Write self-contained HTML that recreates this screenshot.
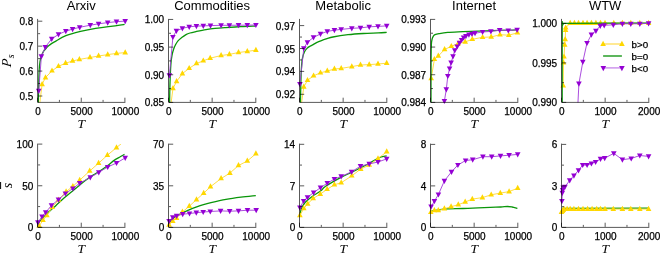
<!DOCTYPE html>
<html><head><meta charset="utf-8"><style>
html,body{margin:0;padding:0;background:#fff;overflow:hidden;}
svg{display:block;will-change:transform;}
.t{font-family:"Liberation Sans",sans-serif;fill:#000;stroke:#000;stroke-width:0.25px;}
.h{font-family:"Liberation Sans",sans-serif;fill:#000;}
.s{font-family:"Liberation Serif",serif;font-style:italic;fill:#000;}
</style></head><body>
<svg width="660" height="253" viewBox="0 0 660 253">
<defs><clipPath id="cr1p1"><rect x="37.60" y="19.40" width="90.30" height="83.00"/></clipPath><clipPath id="cr1p2"><rect x="168.50" y="19.40" width="90.30" height="83.00"/></clipPath><clipPath id="cr1p3"><rect x="299.50" y="19.40" width="90.30" height="83.00"/></clipPath><clipPath id="cr1p4"><rect x="430.50" y="19.40" width="90.30" height="83.00"/></clipPath><clipPath id="cr1p5"><rect x="561.50" y="19.40" width="90.30" height="83.00"/></clipPath><clipPath id="cr2p1"><rect x="37.60" y="144.10" width="90.30" height="83.30"/></clipPath><clipPath id="cr2p2"><rect x="168.50" y="144.10" width="90.30" height="83.30"/></clipPath><clipPath id="cr2p3"><rect x="299.50" y="144.10" width="90.30" height="83.30"/></clipPath><clipPath id="cr2p4"><rect x="430.50" y="144.10" width="90.30" height="83.30"/></clipPath><clipPath id="cr2p5"><rect x="561.50" y="144.10" width="90.30" height="83.30"/></clipPath></defs>
<path clip-path="url(#cr1p1)" fill="none" stroke-linejoin="round" d="M38.60,112.80 L42.10,84.40 L45.50,77.60 L52.00,70.80 L58.50,66.30 L65.60,63.20 L72.60,61.00 L79.40,59.40 L90.00,57.50 L98.60,56.00 L107.70,54.60 L116.50,53.40 L125.20,52.60" stroke="#FFDA30" stroke-width="0.9"/>
<path d="M39.30,86.20 L44.90,86.20 L42.10,81.00Z" fill="#FFD700"/>
<path d="M42.70,79.40 L48.30,79.40 L45.50,74.20Z" fill="#FFD700"/>
<path d="M49.20,72.60 L54.80,72.60 L52.00,67.40Z" fill="#FFD700"/>
<path d="M55.70,68.10 L61.30,68.10 L58.50,62.90Z" fill="#FFD700"/>
<path d="M62.80,65.00 L68.40,65.00 L65.60,59.80Z" fill="#FFD700"/>
<path d="M69.80,62.80 L75.40,62.80 L72.60,57.60Z" fill="#FFD700"/>
<path d="M76.60,61.20 L82.20,61.20 L79.40,56.00Z" fill="#FFD700"/>
<path d="M87.20,59.30 L92.80,59.30 L90.00,54.10Z" fill="#FFD700"/>
<path d="M95.80,57.80 L101.40,57.80 L98.60,52.60Z" fill="#FFD700"/>
<path d="M104.90,56.40 L110.50,56.40 L107.70,51.20Z" fill="#FFD700"/>
<path d="M113.70,55.20 L119.30,55.20 L116.50,50.00Z" fill="#FFD700"/>
<path d="M122.40,54.40 L128.00,54.40 L125.20,49.20Z" fill="#FFD700"/>
<path clip-path="url(#cr1p1)" fill="none" stroke-linejoin="round" d="M38.30,104.00 C38.35,101.67 38.45,95.67 38.60,90.00 C38.75,84.33 38.97,74.73 39.20,70.00 C39.43,65.27 39.68,63.78 40.00,61.60 C40.32,59.42 40.58,58.48 41.10,56.90 C41.62,55.32 42.37,53.42 43.10,52.10 C43.83,50.78 44.58,50.05 45.50,49.00 C46.42,47.95 47.55,46.73 48.60,45.80 C49.65,44.87 50.58,44.18 51.80,43.40 C53.02,42.62 53.65,42.35 55.90,41.10 C58.15,39.85 61.20,37.52 65.30,35.90 C69.40,34.28 75.45,32.67 80.50,31.40 C85.55,30.13 90.55,29.13 95.60,28.30 C100.65,27.47 105.97,27.05 110.80,26.40 C115.63,25.75 122.30,24.73 124.60,24.40" stroke="#0A960A" stroke-width="1.3"/>
<path clip-path="url(#cr1p1)" fill="none" stroke-linejoin="round" d="M38.70,90.90 L41.40,56.40 L45.30,47.10 L51.70,38.90 L58.50,34.40 L65.80,31.10 L72.60,29.10 L79.70,27.30 L90.30,25.20 L98.60,23.80 L107.70,22.60 L116.50,21.70 L125.20,21.10" stroke="#A23ADA" stroke-width="0.9"/>
<path d="M35.90,88.80 L41.50,88.80 L38.70,94.00Z" fill="#9400D3"/>
<path d="M38.60,54.30 L44.20,54.30 L41.40,59.50Z" fill="#9400D3"/>
<path d="M42.50,45.00 L48.10,45.00 L45.30,50.20Z" fill="#9400D3"/>
<path d="M48.90,36.80 L54.50,36.80 L51.70,42.00Z" fill="#9400D3"/>
<path d="M55.70,32.30 L61.30,32.30 L58.50,37.50Z" fill="#9400D3"/>
<path d="M63.00,29.00 L68.60,29.00 L65.80,34.20Z" fill="#9400D3"/>
<path d="M69.80,27.00 L75.40,27.00 L72.60,32.20Z" fill="#9400D3"/>
<path d="M76.90,25.20 L82.50,25.20 L79.70,30.40Z" fill="#9400D3"/>
<path d="M87.50,23.10 L93.10,23.10 L90.30,28.30Z" fill="#9400D3"/>
<path d="M95.80,21.70 L101.40,21.70 L98.60,26.90Z" fill="#9400D3"/>
<path d="M104.90,20.50 L110.50,20.50 L107.70,25.70Z" fill="#9400D3"/>
<path d="M113.70,19.60 L119.30,19.60 L116.50,24.80Z" fill="#9400D3"/>
<path d="M122.40,19.00 L128.00,19.00 L125.20,24.20Z" fill="#9400D3"/>
<path clip-path="url(#cr1p2)" fill="none" stroke-linejoin="round" d="M169.30,115.80 L173.00,88.40 L176.60,81.50 L182.40,73.60 L189.20,68.30 L196.50,63.50 L203.30,60.80 L210.20,58.20 L221.10,55.50 L229.40,54.40 L238.50,52.50 L247.30,51.40 L255.90,50.20" stroke="#FFDA30" stroke-width="0.9"/>
<path d="M170.20,90.20 L175.80,90.20 L173.00,85.00Z" fill="#FFD700"/>
<path d="M173.80,83.30 L179.40,83.30 L176.60,78.10Z" fill="#FFD700"/>
<path d="M179.60,75.40 L185.20,75.40 L182.40,70.20Z" fill="#FFD700"/>
<path d="M186.40,70.10 L192.00,70.10 L189.20,64.90Z" fill="#FFD700"/>
<path d="M193.70,65.30 L199.30,65.30 L196.50,60.10Z" fill="#FFD700"/>
<path d="M200.50,62.60 L206.10,62.60 L203.30,57.40Z" fill="#FFD700"/>
<path d="M207.40,60.00 L213.00,60.00 L210.20,54.80Z" fill="#FFD700"/>
<path d="M218.30,57.30 L223.90,57.30 L221.10,52.10Z" fill="#FFD700"/>
<path d="M226.60,56.20 L232.20,56.20 L229.40,51.00Z" fill="#FFD700"/>
<path d="M235.70,54.30 L241.30,54.30 L238.50,49.10Z" fill="#FFD700"/>
<path d="M244.50,53.20 L250.10,53.20 L247.30,48.00Z" fill="#FFD700"/>
<path d="M253.10,52.00 L258.70,52.00 L255.90,46.80Z" fill="#FFD700"/>
<path clip-path="url(#cr1p2)" fill="none" stroke-linejoin="round" d="M169.60,104.00 C169.63,101.67 169.68,94.83 169.80,90.00 C169.92,85.17 170.10,79.50 170.30,75.00 C170.50,70.50 170.72,66.25 171.00,63.00 C171.28,59.75 171.58,57.75 172.00,55.50 C172.42,53.25 172.92,51.28 173.50,49.50 C174.08,47.72 174.75,46.25 175.50,44.80 C176.25,43.35 176.97,42.00 178.00,40.80 C179.03,39.60 180.37,38.63 181.70,37.60 C183.03,36.57 184.62,35.37 186.00,34.60 C187.38,33.83 188.33,33.50 190.00,33.00 C191.67,32.50 193.33,32.17 196.00,31.60 C198.67,31.03 202.83,30.13 206.00,29.60 C209.17,29.07 211.73,28.73 215.00,28.40 C218.27,28.07 221.30,27.88 225.60,27.60 C229.90,27.32 235.80,26.95 240.80,26.70 C245.80,26.45 253.13,26.20 255.60,26.10" stroke="#0A960A" stroke-width="1.3"/>
<path clip-path="url(#cr1p2)" fill="none" stroke-linejoin="round" d="M169.40,75.30 L172.90,37.00 L176.40,30.90 L182.40,28.30 L189.20,26.80 L196.40,26.10 L203.30,25.90 L210.50,25.60 L221.10,25.30 L229.40,25.30 L238.50,25.20 L247.30,25.20 L255.90,25.00" stroke="#A23ADA" stroke-width="0.9"/>
<path d="M166.60,73.20 L172.20,73.20 L169.40,78.40Z" fill="#9400D3"/>
<path d="M170.10,34.90 L175.70,34.90 L172.90,40.10Z" fill="#9400D3"/>
<path d="M173.60,28.80 L179.20,28.80 L176.40,34.00Z" fill="#9400D3"/>
<path d="M179.60,26.20 L185.20,26.20 L182.40,31.40Z" fill="#9400D3"/>
<path d="M186.40,24.70 L192.00,24.70 L189.20,29.90Z" fill="#9400D3"/>
<path d="M193.60,24.00 L199.20,24.00 L196.40,29.20Z" fill="#9400D3"/>
<path d="M200.50,23.80 L206.10,23.80 L203.30,29.00Z" fill="#9400D3"/>
<path d="M207.70,23.50 L213.30,23.50 L210.50,28.70Z" fill="#9400D3"/>
<path d="M218.30,23.20 L223.90,23.20 L221.10,28.40Z" fill="#9400D3"/>
<path d="M226.60,23.20 L232.20,23.20 L229.40,28.40Z" fill="#9400D3"/>
<path d="M235.70,23.10 L241.30,23.10 L238.50,28.30Z" fill="#9400D3"/>
<path d="M244.50,23.10 L250.10,23.10 L247.30,28.30Z" fill="#9400D3"/>
<path d="M253.10,22.90 L258.70,22.90 L255.90,28.10Z" fill="#9400D3"/>
<path clip-path="url(#cr1p3)" fill="none" stroke-linejoin="round" d="M300.20,112.80 L303.80,86.90 L307.50,80.30 L313.60,75.80 L320.50,72.80 L327.30,71.00 L334.40,69.00 L341.20,68.40 L351.80,66.60 L360.50,65.00 L369.20,64.60 L378.00,64.00 L386.70,63.20" stroke="#FFDA30" stroke-width="0.9"/>
<path d="M301.00,88.70 L306.60,88.70 L303.80,83.50Z" fill="#FFD700"/>
<path d="M304.70,82.10 L310.30,82.10 L307.50,76.90Z" fill="#FFD700"/>
<path d="M310.80,77.60 L316.40,77.60 L313.60,72.40Z" fill="#FFD700"/>
<path d="M317.70,74.60 L323.30,74.60 L320.50,69.40Z" fill="#FFD700"/>
<path d="M324.50,72.80 L330.10,72.80 L327.30,67.60Z" fill="#FFD700"/>
<path d="M331.60,70.80 L337.20,70.80 L334.40,65.60Z" fill="#FFD700"/>
<path d="M338.40,70.20 L344.00,70.20 L341.20,65.00Z" fill="#FFD700"/>
<path d="M349.00,68.40 L354.60,68.40 L351.80,63.20Z" fill="#FFD700"/>
<path d="M357.70,66.80 L363.30,66.80 L360.50,61.60Z" fill="#FFD700"/>
<path d="M366.40,66.40 L372.00,66.40 L369.20,61.20Z" fill="#FFD700"/>
<path d="M375.20,65.80 L380.80,65.80 L378.00,60.60Z" fill="#FFD700"/>
<path d="M383.90,65.00 L389.50,65.00 L386.70,59.80Z" fill="#FFD700"/>
<path clip-path="url(#cr1p3)" fill="none" stroke-linejoin="round" d="M300.40,104.00 C300.45,101.67 300.58,94.83 300.70,90.00 C300.82,85.17 300.93,79.33 301.10,75.00 C301.27,70.67 301.47,66.83 301.70,64.00 C301.93,61.17 302.07,59.97 302.50,58.00 C302.93,56.03 303.55,53.80 304.30,52.20 C305.05,50.60 306.05,49.40 307.00,48.40 C307.95,47.40 308.97,46.83 310.00,46.20 C311.03,45.57 312.03,45.23 313.20,44.60 C314.37,43.97 315.73,43.03 317.00,42.40 C318.27,41.77 319.13,41.42 320.80,40.80 C322.47,40.18 324.98,39.33 327.00,38.70 C329.02,38.07 329.40,37.67 332.90,37.00 C336.40,36.33 342.95,35.28 348.00,34.70 C353.05,34.12 358.15,33.80 363.20,33.50 C368.25,33.20 374.38,33.08 378.30,32.90 C382.22,32.72 385.30,32.48 386.70,32.40" stroke="#0A960A" stroke-width="1.3"/>
<path clip-path="url(#cr1p3)" fill="none" stroke-linejoin="round" d="M299.90,84.20 L303.80,48.30 L307.40,42.30 L313.50,37.40 L320.50,33.90 L327.30,31.40 L334.40,30.20 L341.20,29.40 L351.80,28.30 L360.50,27.90 L369.20,26.80 L378.00,26.40 L386.70,25.90" stroke="#A23ADA" stroke-width="0.9"/>
<path d="M297.10,82.10 L302.70,82.10 L299.90,87.30Z" fill="#9400D3"/>
<path d="M301.00,46.20 L306.60,46.20 L303.80,51.40Z" fill="#9400D3"/>
<path d="M304.60,40.20 L310.20,40.20 L307.40,45.40Z" fill="#9400D3"/>
<path d="M310.70,35.30 L316.30,35.30 L313.50,40.50Z" fill="#9400D3"/>
<path d="M317.70,31.80 L323.30,31.80 L320.50,37.00Z" fill="#9400D3"/>
<path d="M324.50,29.30 L330.10,29.30 L327.30,34.50Z" fill="#9400D3"/>
<path d="M331.60,28.10 L337.20,28.10 L334.40,33.30Z" fill="#9400D3"/>
<path d="M338.40,27.30 L344.00,27.30 L341.20,32.50Z" fill="#9400D3"/>
<path d="M349.00,26.20 L354.60,26.20 L351.80,31.40Z" fill="#9400D3"/>
<path d="M357.70,25.80 L363.30,25.80 L360.50,31.00Z" fill="#9400D3"/>
<path d="M366.40,24.70 L372.00,24.70 L369.20,29.90Z" fill="#9400D3"/>
<path d="M375.20,24.30 L380.80,24.30 L378.00,29.50Z" fill="#9400D3"/>
<path d="M383.90,23.80 L389.50,23.80 L386.70,29.00Z" fill="#9400D3"/>
<path clip-path="url(#cr1p4)" fill="none" stroke-linejoin="round" d="M431.20,78.40 L434.40,59.30 L438.30,56.00 L444.60,49.50 L451.30,46.30 L458.10,43.60 L465.20,41.90 L472.30,39.30 L482.60,37.30 L491.20,37.00 L500.00,34.70 L508.80,35.20 L517.40,32.80" stroke="#FFDA30" stroke-width="0.9"/>
<path d="M428.40,80.20 L434.00,80.20 L431.20,75.00Z" fill="#FFD700"/>
<path d="M431.60,61.10 L437.20,61.10 L434.40,55.90Z" fill="#FFD700"/>
<path d="M435.50,57.80 L441.10,57.80 L438.30,52.60Z" fill="#FFD700"/>
<path d="M441.80,51.30 L447.40,51.30 L444.60,46.10Z" fill="#FFD700"/>
<path d="M448.50,48.10 L454.10,48.10 L451.30,42.90Z" fill="#FFD700"/>
<path d="M455.30,45.40 L460.90,45.40 L458.10,40.20Z" fill="#FFD700"/>
<path d="M462.40,43.70 L468.00,43.70 L465.20,38.50Z" fill="#FFD700"/>
<path d="M469.50,41.10 L475.10,41.10 L472.30,35.90Z" fill="#FFD700"/>
<path d="M479.80,39.10 L485.40,39.10 L482.60,33.90Z" fill="#FFD700"/>
<path d="M488.40,38.80 L494.00,38.80 L491.20,33.60Z" fill="#FFD700"/>
<path d="M497.20,36.50 L502.80,36.50 L500.00,31.30Z" fill="#FFD700"/>
<path d="M506.00,37.00 L511.60,37.00 L508.80,31.80Z" fill="#FFD700"/>
<path d="M514.60,34.60 L520.20,34.60 L517.40,29.40Z" fill="#FFD700"/>
<path clip-path="url(#cr1p4)" fill="none" stroke-linejoin="round" d="M431.00,104.00 C431.00,100.00 430.98,88.17 431.00,80.00 C431.02,71.83 431.03,61.00 431.10,55.00 C431.17,49.00 431.25,46.58 431.40,44.00 C431.55,41.42 431.70,40.78 432.00,39.50 C432.30,38.22 432.70,37.10 433.20,36.30 C433.70,35.50 434.03,35.15 435.00,34.70 C435.97,34.25 436.88,33.98 439.00,33.60 C441.12,33.22 443.72,32.72 447.70,32.40 C451.68,32.08 457.85,31.92 462.90,31.70 C467.95,31.48 472.95,31.28 478.00,31.10 C483.05,30.92 488.15,30.75 493.20,30.60 C498.25,30.45 504.27,30.33 508.30,30.20 C512.33,30.07 515.88,29.87 517.40,29.80" stroke="#0A960A" stroke-width="1.3"/>
<path clip-path="url(#cr1p4)" fill="none" stroke-linejoin="round" d="M444.40,101.00 L446.30,89.30 L447.80,76.00 L449.60,68.50 L451.10,62.70 L453.00,56.40 L454.80,50.30 L457.20,46.50 L459.50,42.80 L461.60,40.00 L463.60,37.70 L465.90,36.20 L468.90,34.70 L472.00,33.90 L475.00,33.20 L482.60,32.00 L490.90,31.40 L499.70,30.20 L508.30,30.50 L517.10,29.80" stroke="#A23ADA" stroke-width="0.9"/>
<path d="M441.60,98.90 L447.20,98.90 L444.40,104.10Z" fill="#9400D3"/>
<path d="M443.50,87.20 L449.10,87.20 L446.30,92.40Z" fill="#9400D3"/>
<path d="M445.00,73.90 L450.60,73.90 L447.80,79.10Z" fill="#9400D3"/>
<path d="M446.80,66.40 L452.40,66.40 L449.60,71.60Z" fill="#9400D3"/>
<path d="M448.30,60.60 L453.90,60.60 L451.10,65.80Z" fill="#9400D3"/>
<path d="M450.20,54.30 L455.80,54.30 L453.00,59.50Z" fill="#9400D3"/>
<path d="M452.00,48.20 L457.60,48.20 L454.80,53.40Z" fill="#9400D3"/>
<path d="M454.40,44.40 L460.00,44.40 L457.20,49.60Z" fill="#9400D3"/>
<path d="M456.70,40.70 L462.30,40.70 L459.50,45.90Z" fill="#9400D3"/>
<path d="M458.80,37.90 L464.40,37.90 L461.60,43.10Z" fill="#9400D3"/>
<path d="M460.80,35.60 L466.40,35.60 L463.60,40.80Z" fill="#9400D3"/>
<path d="M463.10,34.10 L468.70,34.10 L465.90,39.30Z" fill="#9400D3"/>
<path d="M466.10,32.60 L471.70,32.60 L468.90,37.80Z" fill="#9400D3"/>
<path d="M469.20,31.80 L474.80,31.80 L472.00,37.00Z" fill="#9400D3"/>
<path d="M472.20,31.10 L477.80,31.10 L475.00,36.30Z" fill="#9400D3"/>
<path d="M479.80,29.90 L485.40,29.90 L482.60,35.10Z" fill="#9400D3"/>
<path d="M488.10,29.30 L493.70,29.30 L490.90,34.50Z" fill="#9400D3"/>
<path d="M496.90,28.10 L502.50,28.10 L499.70,33.30Z" fill="#9400D3"/>
<path d="M505.50,28.40 L511.10,28.40 L508.30,33.60Z" fill="#9400D3"/>
<path d="M514.30,27.70 L519.90,27.70 L517.10,32.90Z" fill="#9400D3"/>
<path clip-path="url(#cr1p5)" fill="none" stroke-linejoin="round" d="M563.20,85.80 L563.50,62.80 L564.00,56.80 L564.70,44.90 L565.20,39.40 L565.60,30.10 L565.70,27.80 L570.20,23.10 L574.40,23.10 L578.50,23.10 L583.00,23.10 L587.10,23.10 L591.40,23.10 L595.90,23.10 L600.50,23.10 L605.00,23.10 L613.80,23.10 L622.40,23.10 L630.80,23.10 L639.80,23.10 L648.60,23.10" stroke="#FFDA30" stroke-width="0.9"/>
<path d="M560.40,87.60 L566.00,87.60 L563.20,82.40Z" fill="#FFD700"/>
<path d="M560.70,64.60 L566.30,64.60 L563.50,59.40Z" fill="#FFD700"/>
<path d="M561.20,58.60 L566.80,58.60 L564.00,53.40Z" fill="#FFD700"/>
<path d="M561.90,46.70 L567.50,46.70 L564.70,41.50Z" fill="#FFD700"/>
<path d="M562.40,41.20 L568.00,41.20 L565.20,36.00Z" fill="#FFD700"/>
<path d="M562.80,31.90 L568.40,31.90 L565.60,26.70Z" fill="#FFD700"/>
<path d="M562.90,29.60 L568.50,29.60 L565.70,24.40Z" fill="#FFD700"/>
<path d="M567.40,24.90 L573.00,24.90 L570.20,19.70Z" fill="#FFD700"/>
<path d="M571.60,24.90 L577.20,24.90 L574.40,19.70Z" fill="#FFD700"/>
<path d="M575.70,24.90 L581.30,24.90 L578.50,19.70Z" fill="#FFD700"/>
<path d="M580.20,24.90 L585.80,24.90 L583.00,19.70Z" fill="#FFD700"/>
<path d="M584.30,24.90 L589.90,24.90 L587.10,19.70Z" fill="#FFD700"/>
<path d="M588.60,24.90 L594.20,24.90 L591.40,19.70Z" fill="#FFD700"/>
<path d="M593.10,24.90 L598.70,24.90 L595.90,19.70Z" fill="#FFD700"/>
<path d="M597.70,24.90 L603.30,24.90 L600.50,19.70Z" fill="#FFD700"/>
<path d="M602.20,24.90 L607.80,24.90 L605.00,19.70Z" fill="#FFD700"/>
<path d="M611.00,24.90 L616.60,24.90 L613.80,19.70Z" fill="#FFD700"/>
<path d="M619.60,24.90 L625.20,24.90 L622.40,19.70Z" fill="#FFD700"/>
<path d="M628.00,24.90 L633.60,24.90 L630.80,19.70Z" fill="#FFD700"/>
<path d="M637.00,24.90 L642.60,24.90 L639.80,19.70Z" fill="#FFD700"/>
<path d="M645.80,24.90 L651.40,24.90 L648.60,19.70Z" fill="#FFD700"/>
<path clip-path="url(#cr1p5)" fill="none" stroke-linejoin="round" d="M562.20,104.00 C562.20,91.33 562.15,41.12 562.20,28.00 C562.25,14.88 562.28,26.00 562.50,25.30 C562.72,24.60 563.03,24.13 563.50,23.80 C563.97,23.47 550.83,23.40 565.30,23.30 C579.77,23.20 636.13,23.22 650.30,23.20" stroke="#0A960A" stroke-width="1.3"/>
<path clip-path="url(#cr1p5)" fill="none" stroke-linejoin="round" d="M577.60,110.00 L578.90,83.70 L582.80,61.90 L587.00,43.00 L591.40,34.70 L595.90,30.90 L600.20,25.90 L604.20,25.30 L613.30,24.80 L622.40,23.80 L630.80,23.80 L639.80,23.80 L648.60,23.30" stroke="#A23ADA" stroke-width="0.9"/>
<path d="M576.10,81.60 L581.70,81.60 L578.90,86.80Z" fill="#9400D3"/>
<path d="M580.00,59.80 L585.60,59.80 L582.80,65.00Z" fill="#9400D3"/>
<path d="M584.20,40.90 L589.80,40.90 L587.00,46.10Z" fill="#9400D3"/>
<path d="M588.60,32.60 L594.20,32.60 L591.40,37.80Z" fill="#9400D3"/>
<path d="M593.10,28.80 L598.70,28.80 L595.90,34.00Z" fill="#9400D3"/>
<path d="M597.40,23.80 L603.00,23.80 L600.20,29.00Z" fill="#9400D3"/>
<path d="M601.40,23.20 L607.00,23.20 L604.20,28.40Z" fill="#9400D3"/>
<path d="M610.50,22.70 L616.10,22.70 L613.30,27.90Z" fill="#9400D3"/>
<path d="M619.60,21.70 L625.20,21.70 L622.40,26.90Z" fill="#9400D3"/>
<path d="M628.00,21.70 L633.60,21.70 L630.80,26.90Z" fill="#9400D3"/>
<path d="M637.00,21.70 L642.60,21.70 L639.80,26.90Z" fill="#9400D3"/>
<path d="M645.80,21.20 L651.40,21.20 L648.60,26.40Z" fill="#9400D3"/>
<path clip-path="url(#cr2p1)" fill="none" stroke-linejoin="round" d="M37.40,226.50 C37.43,226.33 37.28,226.27 37.60,225.50 C37.92,224.73 38.62,222.98 39.30,221.90 C39.98,220.82 40.80,219.98 41.70,219.00 C42.60,218.02 43.65,217.05 44.70,216.00 C45.75,214.95 46.12,214.47 48.00,212.70 C49.88,210.93 53.33,207.83 56.00,205.40 C58.67,202.97 61.33,200.43 64.00,198.10 C66.67,195.77 69.50,193.47 72.00,191.40 C74.50,189.33 76.67,187.60 79.00,185.70 C81.33,183.80 83.65,181.77 86.00,180.00 C88.35,178.23 90.73,176.63 93.10,175.10 C95.47,173.57 97.82,172.35 100.20,170.80 C102.58,169.25 105.02,167.58 107.40,165.80 C109.78,164.02 112.48,161.52 114.50,160.10 C116.52,158.68 117.83,158.25 119.50,157.30 C121.17,156.35 123.67,154.88 124.50,154.40" stroke="#0A960A" stroke-width="1.3"/>
<path clip-path="url(#cr2p1)" fill="none" stroke-linejoin="round" d="M39.20,226.00 L43.00,220.10 L46.90,215.50 L52.20,207.30 L58.50,199.90 L66.10,191.60 L72.90,186.30 L79.70,180.20 L89.70,171.00 L98.60,163.20 L107.40,155.20 L116.50,147.60 L125.40,140.30" stroke="#FFDA30" stroke-width="0.9"/>
<path d="M36.40,227.80 L42.00,227.80 L39.20,222.60Z" fill="#FFD700"/>
<path d="M40.20,221.90 L45.80,221.90 L43.00,216.70Z" fill="#FFD700"/>
<path d="M44.10,217.30 L49.70,217.30 L46.90,212.10Z" fill="#FFD700"/>
<path d="M49.40,209.10 L55.00,209.10 L52.20,203.90Z" fill="#FFD700"/>
<path d="M55.70,201.70 L61.30,201.70 L58.50,196.50Z" fill="#FFD700"/>
<path d="M63.30,193.40 L68.90,193.40 L66.10,188.20Z" fill="#FFD700"/>
<path d="M70.10,188.10 L75.70,188.10 L72.90,182.90Z" fill="#FFD700"/>
<path d="M76.90,182.00 L82.50,182.00 L79.70,176.80Z" fill="#FFD700"/>
<path d="M86.90,172.80 L92.50,172.80 L89.70,167.60Z" fill="#FFD700"/>
<path d="M95.80,165.00 L101.40,165.00 L98.60,159.80Z" fill="#FFD700"/>
<path d="M104.60,157.00 L110.20,157.00 L107.40,151.80Z" fill="#FFD700"/>
<path d="M113.70,149.40 L119.30,149.40 L116.50,144.20Z" fill="#FFD700"/>
<path clip-path="url(#cr2p1)" fill="none" stroke-linejoin="round" d="M37.90,222.40 L42.00,216.50 L45.70,212.40 L51.50,205.40 L58.50,199.60 L65.40,193.50 L72.90,188.50 L79.70,183.20 L90.30,177.40 L98.80,172.40 L107.70,167.00 L116.50,163.00 L125.20,157.90" stroke="#A23ADA" stroke-width="0.9"/>
<path d="M35.10,220.30 L40.70,220.30 L37.90,225.50Z" fill="#9400D3"/>
<path d="M39.20,214.40 L44.80,214.40 L42.00,219.60Z" fill="#9400D3"/>
<path d="M42.90,210.30 L48.50,210.30 L45.70,215.50Z" fill="#9400D3"/>
<path d="M48.70,203.30 L54.30,203.30 L51.50,208.50Z" fill="#9400D3"/>
<path d="M55.70,197.50 L61.30,197.50 L58.50,202.70Z" fill="#9400D3"/>
<path d="M62.60,191.40 L68.20,191.40 L65.40,196.60Z" fill="#9400D3"/>
<path d="M70.10,186.40 L75.70,186.40 L72.90,191.60Z" fill="#9400D3"/>
<path d="M76.90,181.10 L82.50,181.10 L79.70,186.30Z" fill="#9400D3"/>
<path d="M87.50,175.30 L93.10,175.30 L90.30,180.50Z" fill="#9400D3"/>
<path d="M96.00,170.30 L101.60,170.30 L98.80,175.50Z" fill="#9400D3"/>
<path d="M104.90,164.90 L110.50,164.90 L107.70,170.10Z" fill="#9400D3"/>
<path d="M113.70,160.90 L119.30,160.90 L116.50,166.10Z" fill="#9400D3"/>
<path d="M122.40,155.80 L128.00,155.80 L125.20,161.00Z" fill="#9400D3"/>
<path clip-path="url(#cr2p2)" fill="none" stroke-linejoin="round" d="M168.80,224.00 C168.93,223.73 168.82,223.40 169.60,222.40 C170.38,221.40 171.60,219.48 173.50,218.00 C175.40,216.52 178.50,214.80 181.00,213.50 C183.50,212.20 186.00,211.25 188.50,210.20 C191.00,209.15 193.50,208.13 196.00,207.20 C198.50,206.27 201.00,205.37 203.50,204.60 C206.00,203.83 207.25,203.47 211.00,202.60 C214.75,201.73 221.00,200.30 226.00,199.40 C231.00,198.50 236.03,197.83 241.00,197.20 C245.97,196.57 253.33,195.87 255.80,195.60" stroke="#0A960A" stroke-width="1.3"/>
<path clip-path="url(#cr2p2)" fill="none" stroke-linejoin="round" d="M169.10,224.90 L172.80,221.10 L176.60,218.10 L182.40,212.00 L189.30,206.20 L196.50,199.60 L203.70,193.20 L210.50,186.70 L221.10,178.50 L229.90,173.10 L238.50,165.50 L247.30,161.00 L255.90,153.70" stroke="#FFDA30" stroke-width="0.9"/>
<path d="M166.30,226.70 L171.90,226.70 L169.10,221.50Z" fill="#FFD700"/>
<path d="M170.00,222.90 L175.60,222.90 L172.80,217.70Z" fill="#FFD700"/>
<path d="M173.80,219.90 L179.40,219.90 L176.60,214.70Z" fill="#FFD700"/>
<path d="M179.60,213.80 L185.20,213.80 L182.40,208.60Z" fill="#FFD700"/>
<path d="M186.50,208.00 L192.10,208.00 L189.30,202.80Z" fill="#FFD700"/>
<path d="M193.70,201.40 L199.30,201.40 L196.50,196.20Z" fill="#FFD700"/>
<path d="M200.90,195.00 L206.50,195.00 L203.70,189.80Z" fill="#FFD700"/>
<path d="M207.70,188.50 L213.30,188.50 L210.50,183.30Z" fill="#FFD700"/>
<path d="M218.30,180.30 L223.90,180.30 L221.10,175.10Z" fill="#FFD700"/>
<path d="M227.10,174.90 L232.70,174.90 L229.90,169.70Z" fill="#FFD700"/>
<path d="M235.70,167.30 L241.30,167.30 L238.50,162.10Z" fill="#FFD700"/>
<path d="M244.50,162.80 L250.10,162.80 L247.30,157.60Z" fill="#FFD700"/>
<path d="M253.10,155.50 L258.70,155.50 L255.90,150.30Z" fill="#FFD700"/>
<path clip-path="url(#cr2p2)" fill="none" stroke-linejoin="round" d="M169.10,221.10 L172.80,217.30 L176.60,215.80 L182.70,214.20 L189.50,213.50 L196.30,212.70 L203.20,212.00 L210.30,211.50 L220.60,210.90 L229.70,211.20 L238.50,210.90 L247.50,210.20 L256.20,210.20" stroke="#A23ADA" stroke-width="0.9"/>
<path d="M166.30,219.00 L171.90,219.00 L169.10,224.20Z" fill="#9400D3"/>
<path d="M170.00,215.20 L175.60,215.20 L172.80,220.40Z" fill="#9400D3"/>
<path d="M173.80,213.70 L179.40,213.70 L176.60,218.90Z" fill="#9400D3"/>
<path d="M179.90,212.10 L185.50,212.10 L182.70,217.30Z" fill="#9400D3"/>
<path d="M186.70,211.40 L192.30,211.40 L189.50,216.60Z" fill="#9400D3"/>
<path d="M193.50,210.60 L199.10,210.60 L196.30,215.80Z" fill="#9400D3"/>
<path d="M200.40,209.90 L206.00,209.90 L203.20,215.10Z" fill="#9400D3"/>
<path d="M207.50,209.40 L213.10,209.40 L210.30,214.60Z" fill="#9400D3"/>
<path d="M217.80,208.80 L223.40,208.80 L220.60,214.00Z" fill="#9400D3"/>
<path d="M226.90,209.10 L232.50,209.10 L229.70,214.30Z" fill="#9400D3"/>
<path d="M235.70,208.80 L241.30,208.80 L238.50,214.00Z" fill="#9400D3"/>
<path d="M244.70,208.10 L250.30,208.10 L247.50,213.30Z" fill="#9400D3"/>
<path d="M253.40,208.10 L259.00,208.10 L256.20,213.30Z" fill="#9400D3"/>
<path clip-path="url(#cr2p3)" fill="none" stroke-linejoin="round" d="M299.50,216.20 C299.83,214.92 300.53,210.82 301.50,208.50 C302.47,206.18 303.63,204.23 305.30,202.30 C306.97,200.37 308.92,198.82 311.50,196.90 C314.08,194.98 318.50,192.53 320.80,190.80 C323.10,189.07 322.02,188.70 325.30,186.50 C328.58,184.30 335.95,180.05 340.50,177.60 C345.05,175.15 348.32,173.90 352.60,171.80 C356.88,169.70 361.92,167.30 366.20,165.00 C370.48,162.70 374.88,159.52 378.30,158.00 C381.72,156.48 385.30,156.25 386.70,155.90" stroke="#0A960A" stroke-width="1.3"/>
<path clip-path="url(#cr2p3)" fill="none" stroke-linejoin="round" d="M299.90,215.50 L303.80,208.50 L307.70,203.90 L313.20,198.40 L320.30,194.10 L327.10,189.30 L334.40,184.70 L341.20,182.80 L351.80,175.80 L360.70,169.10 L369.20,165.00 L378.00,158.70 L386.70,151.70" stroke="#FFDA30" stroke-width="0.9"/>
<path d="M297.10,217.30 L302.70,217.30 L299.90,212.10Z" fill="#FFD700"/>
<path d="M301.00,210.30 L306.60,210.30 L303.80,205.10Z" fill="#FFD700"/>
<path d="M304.90,205.70 L310.50,205.70 L307.70,200.50Z" fill="#FFD700"/>
<path d="M310.40,200.20 L316.00,200.20 L313.20,195.00Z" fill="#FFD700"/>
<path d="M317.50,195.90 L323.10,195.90 L320.30,190.70Z" fill="#FFD700"/>
<path d="M324.30,191.10 L329.90,191.10 L327.10,185.90Z" fill="#FFD700"/>
<path d="M331.60,186.50 L337.20,186.50 L334.40,181.30Z" fill="#FFD700"/>
<path d="M338.40,184.60 L344.00,184.60 L341.20,179.40Z" fill="#FFD700"/>
<path d="M349.00,177.60 L354.60,177.60 L351.80,172.40Z" fill="#FFD700"/>
<path d="M357.90,170.90 L363.50,170.90 L360.70,165.70Z" fill="#FFD700"/>
<path d="M366.40,166.80 L372.00,166.80 L369.20,161.60Z" fill="#FFD700"/>
<path d="M375.20,160.50 L380.80,160.50 L378.00,155.30Z" fill="#FFD700"/>
<path d="M383.90,153.50 L389.50,153.50 L386.70,148.30Z" fill="#FFD700"/>
<path clip-path="url(#cr2p3)" fill="none" stroke-linejoin="round" d="M299.90,207.70 L303.60,201.00 L307.50,197.30 L313.60,192.60 L320.50,187.70 L327.30,183.20 L334.40,179.00 L341.20,176.40 L351.60,171.80 L360.50,166.20 L369.20,163.90 L378.00,162.00 L386.70,158.90" stroke="#A23ADA" stroke-width="0.9"/>
<path d="M297.10,205.60 L302.70,205.60 L299.90,210.80Z" fill="#9400D3"/>
<path d="M300.80,198.90 L306.40,198.90 L303.60,204.10Z" fill="#9400D3"/>
<path d="M304.70,195.20 L310.30,195.20 L307.50,200.40Z" fill="#9400D3"/>
<path d="M310.80,190.50 L316.40,190.50 L313.60,195.70Z" fill="#9400D3"/>
<path d="M317.70,185.60 L323.30,185.60 L320.50,190.80Z" fill="#9400D3"/>
<path d="M324.50,181.10 L330.10,181.10 L327.30,186.30Z" fill="#9400D3"/>
<path d="M331.60,176.90 L337.20,176.90 L334.40,182.10Z" fill="#9400D3"/>
<path d="M338.40,174.30 L344.00,174.30 L341.20,179.50Z" fill="#9400D3"/>
<path d="M348.80,169.70 L354.40,169.70 L351.60,174.90Z" fill="#9400D3"/>
<path d="M357.70,164.10 L363.30,164.10 L360.50,169.30Z" fill="#9400D3"/>
<path d="M366.40,161.80 L372.00,161.80 L369.20,167.00Z" fill="#9400D3"/>
<path d="M375.20,159.90 L380.80,159.90 L378.00,165.10Z" fill="#9400D3"/>
<path d="M383.90,156.80 L389.50,156.80 L386.70,162.00Z" fill="#9400D3"/>
<path clip-path="url(#cr2p4)" fill="none" stroke-linejoin="round" d="M431.10,211.20 C432.58,210.93 437.23,209.98 440.00,209.60 C442.77,209.22 443.88,209.08 447.70,208.90 C451.52,208.72 457.85,208.67 462.90,208.50 C467.95,208.33 473.45,208.10 478.00,207.90 C482.55,207.70 486.40,207.45 490.20,207.30 C494.00,207.15 497.92,207.13 500.80,207.00 C503.68,206.87 505.63,206.50 507.50,206.50 C509.37,206.50 510.35,206.70 512.00,207.00 C513.65,207.30 516.50,208.08 517.40,208.30" stroke="#0A960A" stroke-width="1.3"/>
<path clip-path="url(#cr2p4)" fill="none" stroke-linejoin="round" d="M430.80,212.30 L434.40,210.50 L438.30,210.50 L444.40,208.70 L451.10,206.70 L458.30,204.70 L465.20,202.00 L472.30,199.10 L482.40,197.60 L491.20,194.80 L500.30,193.10 L509.10,191.60 L517.70,188.20" stroke="#FFDA30" stroke-width="0.9"/>
<path d="M428.00,214.10 L433.60,214.10 L430.80,208.90Z" fill="#FFD700"/>
<path d="M431.60,212.30 L437.20,212.30 L434.40,207.10Z" fill="#FFD700"/>
<path d="M435.50,212.30 L441.10,212.30 L438.30,207.10Z" fill="#FFD700"/>
<path d="M441.60,210.50 L447.20,210.50 L444.40,205.30Z" fill="#FFD700"/>
<path d="M448.30,208.50 L453.90,208.50 L451.10,203.30Z" fill="#FFD700"/>
<path d="M455.50,206.50 L461.10,206.50 L458.30,201.30Z" fill="#FFD700"/>
<path d="M462.40,203.80 L468.00,203.80 L465.20,198.60Z" fill="#FFD700"/>
<path d="M469.50,200.90 L475.10,200.90 L472.30,195.70Z" fill="#FFD700"/>
<path d="M479.60,199.40 L485.20,199.40 L482.40,194.20Z" fill="#FFD700"/>
<path d="M488.40,196.60 L494.00,196.60 L491.20,191.40Z" fill="#FFD700"/>
<path d="M497.50,194.90 L503.10,194.90 L500.30,189.70Z" fill="#FFD700"/>
<path d="M506.30,193.40 L511.90,193.40 L509.10,188.20Z" fill="#FFD700"/>
<path d="M514.90,190.00 L520.50,190.00 L517.70,184.80Z" fill="#FFD700"/>
<path clip-path="url(#cr2p4)" fill="none" stroke-linejoin="round" d="M431.10,206.70 L434.40,201.20 L438.40,194.50 L444.40,180.90 L451.50,171.80 L457.90,165.00 L465.60,160.50 L472.70,159.70 L482.90,156.70 L491.70,156.70 L500.50,155.90 L509.10,155.20 L517.70,154.40" stroke="#A23ADA" stroke-width="0.9"/>
<path d="M428.30,204.60 L433.90,204.60 L431.10,209.80Z" fill="#9400D3"/>
<path d="M431.60,199.10 L437.20,199.10 L434.40,204.30Z" fill="#9400D3"/>
<path d="M435.60,192.40 L441.20,192.40 L438.40,197.60Z" fill="#9400D3"/>
<path d="M441.60,178.80 L447.20,178.80 L444.40,184.00Z" fill="#9400D3"/>
<path d="M448.70,169.70 L454.30,169.70 L451.50,174.90Z" fill="#9400D3"/>
<path d="M455.10,162.90 L460.70,162.90 L457.90,168.10Z" fill="#9400D3"/>
<path d="M462.80,158.40 L468.40,158.40 L465.60,163.60Z" fill="#9400D3"/>
<path d="M469.90,157.60 L475.50,157.60 L472.70,162.80Z" fill="#9400D3"/>
<path d="M480.10,154.60 L485.70,154.60 L482.90,159.80Z" fill="#9400D3"/>
<path d="M488.90,154.60 L494.50,154.60 L491.70,159.80Z" fill="#9400D3"/>
<path d="M497.70,153.80 L503.30,153.80 L500.50,159.00Z" fill="#9400D3"/>
<path d="M506.30,153.10 L511.90,153.10 L509.10,158.30Z" fill="#9400D3"/>
<path d="M514.90,152.30 L520.50,152.30 L517.70,157.50Z" fill="#9400D3"/>
<path clip-path="url(#cr2p5)" fill="none" stroke-linejoin="round" d="M561.80,208.40 L648.20,208.20" stroke="#0A960A" stroke-width="1.3"/>
<path clip-path="url(#cr2p5)" fill="none" stroke-linejoin="round" d="M561.50,212.10 L562.40,211.20 L563.30,210.20 L564.10,209.10 L567.10,209.10 L570.20,209.10 L573.90,209.10 L578.50,209.10 L583.00,209.10 L587.60,209.10 L592.10,209.10 L596.70,209.10 L600.50,209.10 L605.00,209.10 L613.30,209.10 L622.40,209.10 L630.80,209.10 L639.80,209.10 L648.60,209.10" stroke="#FFDA30" stroke-width="0.9"/>
<path d="M558.70,213.90 L564.30,213.90 L561.50,208.70Z" fill="#FFD700"/>
<path d="M559.60,213.00 L565.20,213.00 L562.40,207.80Z" fill="#FFD700"/>
<path d="M560.50,212.00 L566.10,212.00 L563.30,206.80Z" fill="#FFD700"/>
<path d="M561.30,210.90 L566.90,210.90 L564.10,205.70Z" fill="#FFD700"/>
<path d="M564.30,210.90 L569.90,210.90 L567.10,205.70Z" fill="#FFD700"/>
<path d="M567.40,210.90 L573.00,210.90 L570.20,205.70Z" fill="#FFD700"/>
<path d="M571.10,210.90 L576.70,210.90 L573.90,205.70Z" fill="#FFD700"/>
<path d="M575.70,210.90 L581.30,210.90 L578.50,205.70Z" fill="#FFD700"/>
<path d="M580.20,210.90 L585.80,210.90 L583.00,205.70Z" fill="#FFD700"/>
<path d="M584.80,210.90 L590.40,210.90 L587.60,205.70Z" fill="#FFD700"/>
<path d="M589.30,210.90 L594.90,210.90 L592.10,205.70Z" fill="#FFD700"/>
<path d="M593.90,210.90 L599.50,210.90 L596.70,205.70Z" fill="#FFD700"/>
<path d="M597.70,210.90 L603.30,210.90 L600.50,205.70Z" fill="#FFD700"/>
<path d="M602.20,210.90 L607.80,210.90 L605.00,205.70Z" fill="#FFD700"/>
<path d="M610.50,210.90 L616.10,210.90 L613.30,205.70Z" fill="#FFD700"/>
<path d="M619.60,210.90 L625.20,210.90 L622.40,205.70Z" fill="#FFD700"/>
<path d="M628.00,210.90 L633.60,210.90 L630.80,205.70Z" fill="#FFD700"/>
<path d="M637.00,210.90 L642.60,210.90 L639.80,205.70Z" fill="#FFD700"/>
<path d="M645.80,210.90 L651.40,210.90 L648.60,205.70Z" fill="#FFD700"/>
<path clip-path="url(#cr2p5)" fill="none" stroke-linejoin="round" d="M561.90,201.10 L562.30,192.80 L562.70,190.20 L563.30,187.60 L564.90,186.90 L569.70,180.40 L573.90,175.60 L578.50,170.30 L582.70,165.00 L587.10,165.00 L591.40,163.50 L595.60,162.00 L600.50,158.90 L604.70,158.20 L613.80,153.30 L622.40,159.70 L631.20,158.50 L639.80,155.50 L648.60,156.40" stroke="#A23ADA" stroke-width="0.9"/>
<path d="M559.10,199.00 L564.70,199.00 L561.90,204.20Z" fill="#9400D3"/>
<path d="M559.50,190.70 L565.10,190.70 L562.30,195.90Z" fill="#9400D3"/>
<path d="M559.90,188.10 L565.50,188.10 L562.70,193.30Z" fill="#9400D3"/>
<path d="M560.50,185.50 L566.10,185.50 L563.30,190.70Z" fill="#9400D3"/>
<path d="M562.10,184.80 L567.70,184.80 L564.90,190.00Z" fill="#9400D3"/>
<path d="M566.90,178.30 L572.50,178.30 L569.70,183.50Z" fill="#9400D3"/>
<path d="M571.10,173.50 L576.70,173.50 L573.90,178.70Z" fill="#9400D3"/>
<path d="M575.70,168.20 L581.30,168.20 L578.50,173.40Z" fill="#9400D3"/>
<path d="M579.90,162.90 L585.50,162.90 L582.70,168.10Z" fill="#9400D3"/>
<path d="M584.30,162.90 L589.90,162.90 L587.10,168.10Z" fill="#9400D3"/>
<path d="M588.60,161.40 L594.20,161.40 L591.40,166.60Z" fill="#9400D3"/>
<path d="M592.80,159.90 L598.40,159.90 L595.60,165.10Z" fill="#9400D3"/>
<path d="M597.70,156.80 L603.30,156.80 L600.50,162.00Z" fill="#9400D3"/>
<path d="M601.90,156.10 L607.50,156.10 L604.70,161.30Z" fill="#9400D3"/>
<path d="M611.00,151.20 L616.60,151.20 L613.80,156.40Z" fill="#9400D3"/>
<path d="M619.60,157.60 L625.20,157.60 L622.40,162.80Z" fill="#9400D3"/>
<path d="M628.40,156.40 L634.00,156.40 L631.20,161.60Z" fill="#9400D3"/>
<path d="M637.00,153.40 L642.60,153.40 L639.80,158.60Z" fill="#9400D3"/>
<path d="M645.80,154.30 L651.40,154.30 L648.60,159.50Z" fill="#9400D3"/>
<path d="M37.60,19.40 L37.60,102.40 L124.90,102.40" fill="none" stroke="#000" stroke-opacity="0.65" stroke-width="1" stroke-linecap="square"/>
<line x1="37.60" y1="101.90" x2="37.60" y2="97.70" stroke="#000" stroke-width="1.0" stroke-opacity="0.65"/>
<text x="38.00" y="114.70" text-anchor="middle" font-size="10" class="t">0</text>
<line x1="59.42" y1="101.90" x2="59.42" y2="99.90" stroke="#000" stroke-width="1.0" stroke-opacity="0.65"/>
<line x1="81.25" y1="101.90" x2="81.25" y2="97.70" stroke="#000" stroke-width="1.0" stroke-opacity="0.65"/>
<text x="81.65" y="114.70" text-anchor="middle" font-size="10" class="t">5000</text>
<line x1="103.07" y1="101.90" x2="103.07" y2="99.90" stroke="#000" stroke-width="1.0" stroke-opacity="0.65"/>
<line x1="124.90" y1="101.90" x2="124.90" y2="97.70" stroke="#000" stroke-width="1.0" stroke-opacity="0.65"/>
<text x="125.30" y="114.70" text-anchor="middle" font-size="10" class="t">10000</text>
<line x1="38.10" y1="21.20" x2="42.30" y2="21.20" stroke="#000" stroke-width="1.0" stroke-opacity="0.65"/>
<text x="33.30" y="25.20" text-anchor="end" font-size="10" class="t">0.8</text>
<line x1="38.10" y1="33.67" x2="40.10" y2="33.67" stroke="#000" stroke-width="1.0" stroke-opacity="0.65"/>
<line x1="38.10" y1="46.13" x2="42.30" y2="46.13" stroke="#000" stroke-width="1.0" stroke-opacity="0.65"/>
<text x="33.30" y="50.13" text-anchor="end" font-size="10" class="t">0.7</text>
<line x1="38.10" y1="58.60" x2="40.10" y2="58.60" stroke="#000" stroke-width="1.0" stroke-opacity="0.65"/>
<line x1="38.10" y1="71.07" x2="42.30" y2="71.07" stroke="#000" stroke-width="1.0" stroke-opacity="0.65"/>
<text x="33.30" y="75.07" text-anchor="end" font-size="10" class="t">0.6</text>
<line x1="38.10" y1="83.53" x2="40.10" y2="83.53" stroke="#000" stroke-width="1.0" stroke-opacity="0.65"/>
<line x1="38.10" y1="96.00" x2="42.30" y2="96.00" stroke="#000" stroke-width="1.0" stroke-opacity="0.65"/>
<text x="33.30" y="100.00" text-anchor="end" font-size="10" class="t">0.5</text>
<text x="81.25" y="128.40" text-anchor="middle" font-size="13.5" class="s">T</text>
<path d="M37.60,144.10 L37.60,227.40 L124.90,227.40" fill="none" stroke="#000" stroke-opacity="0.65" stroke-width="1" stroke-linecap="square"/>
<line x1="37.60" y1="226.90" x2="37.60" y2="222.70" stroke="#000" stroke-width="1.0" stroke-opacity="0.65"/>
<text x="38.00" y="239.70" text-anchor="middle" font-size="10" class="t">0</text>
<line x1="59.42" y1="226.90" x2="59.42" y2="224.90" stroke="#000" stroke-width="1.0" stroke-opacity="0.65"/>
<line x1="81.25" y1="226.90" x2="81.25" y2="222.70" stroke="#000" stroke-width="1.0" stroke-opacity="0.65"/>
<text x="81.65" y="239.70" text-anchor="middle" font-size="10" class="t">5000</text>
<line x1="103.07" y1="226.90" x2="103.07" y2="224.90" stroke="#000" stroke-width="1.0" stroke-opacity="0.65"/>
<line x1="124.90" y1="226.90" x2="124.90" y2="222.70" stroke="#000" stroke-width="1.0" stroke-opacity="0.65"/>
<text x="125.30" y="239.70" text-anchor="middle" font-size="10" class="t">10000</text>
<line x1="38.10" y1="144.10" x2="42.30" y2="144.10" stroke="#000" stroke-width="1.0" stroke-opacity="0.65"/>
<text x="33.30" y="148.10" text-anchor="end" font-size="10" class="t">100</text>
<line x1="38.10" y1="164.93" x2="40.10" y2="164.93" stroke="#000" stroke-width="1.0" stroke-opacity="0.65"/>
<line x1="38.10" y1="185.75" x2="42.30" y2="185.75" stroke="#000" stroke-width="1.0" stroke-opacity="0.65"/>
<text x="33.30" y="189.75" text-anchor="end" font-size="10" class="t">50</text>
<line x1="38.10" y1="206.57" x2="40.10" y2="206.57" stroke="#000" stroke-width="1.0" stroke-opacity="0.65"/>
<line x1="38.10" y1="227.40" x2="42.30" y2="227.40" stroke="#000" stroke-width="1.0" stroke-opacity="0.65"/>
<text x="33.30" y="231.40" text-anchor="end" font-size="10" class="t">0</text>
<text x="81.25" y="253.40" text-anchor="middle" font-size="13.5" class="s">T</text>
<text x="81.25" y="10.00" text-anchor="middle" font-size="13" class="h">Arxiv</text>
<path d="M168.50,19.40 L168.50,102.40 L255.80,102.40" fill="none" stroke="#000" stroke-opacity="0.65" stroke-width="1" stroke-linecap="square"/>
<line x1="168.50" y1="101.90" x2="168.50" y2="97.70" stroke="#000" stroke-width="1.0" stroke-opacity="0.65"/>
<text x="168.90" y="114.70" text-anchor="middle" font-size="10" class="t">0</text>
<line x1="190.32" y1="101.90" x2="190.32" y2="99.90" stroke="#000" stroke-width="1.0" stroke-opacity="0.65"/>
<line x1="212.15" y1="101.90" x2="212.15" y2="97.70" stroke="#000" stroke-width="1.0" stroke-opacity="0.65"/>
<text x="212.55" y="114.70" text-anchor="middle" font-size="10" class="t">5000</text>
<line x1="233.97" y1="101.90" x2="233.97" y2="99.90" stroke="#000" stroke-width="1.0" stroke-opacity="0.65"/>
<line x1="255.80" y1="101.90" x2="255.80" y2="97.70" stroke="#000" stroke-width="1.0" stroke-opacity="0.65"/>
<text x="256.20" y="114.70" text-anchor="middle" font-size="10" class="t">10000</text>
<line x1="169.00" y1="19.45" x2="173.20" y2="19.45" stroke="#000" stroke-width="1.0" stroke-opacity="0.65"/>
<text x="164.20" y="23.45" text-anchor="end" font-size="10" class="t">1.00</text>
<line x1="169.00" y1="33.27" x2="171.00" y2="33.27" stroke="#000" stroke-width="1.0" stroke-opacity="0.65"/>
<line x1="169.00" y1="47.10" x2="173.20" y2="47.10" stroke="#000" stroke-width="1.0" stroke-opacity="0.65"/>
<text x="164.20" y="51.10" text-anchor="end" font-size="10" class="t">0.95</text>
<line x1="169.00" y1="60.92" x2="171.00" y2="60.92" stroke="#000" stroke-width="1.0" stroke-opacity="0.65"/>
<line x1="169.00" y1="74.75" x2="173.20" y2="74.75" stroke="#000" stroke-width="1.0" stroke-opacity="0.65"/>
<text x="164.20" y="78.75" text-anchor="end" font-size="10" class="t">0.90</text>
<line x1="169.00" y1="88.58" x2="171.00" y2="88.58" stroke="#000" stroke-width="1.0" stroke-opacity="0.65"/>
<line x1="169.00" y1="102.40" x2="173.20" y2="102.40" stroke="#000" stroke-width="1.0" stroke-opacity="0.65"/>
<text x="164.20" y="106.40" text-anchor="end" font-size="10" class="t">0.85</text>
<text x="212.15" y="128.40" text-anchor="middle" font-size="13.5" class="s">T</text>
<path d="M168.50,144.10 L168.50,227.40 L255.80,227.40" fill="none" stroke="#000" stroke-opacity="0.65" stroke-width="1" stroke-linecap="square"/>
<line x1="168.50" y1="226.90" x2="168.50" y2="222.70" stroke="#000" stroke-width="1.0" stroke-opacity="0.65"/>
<text x="168.90" y="239.70" text-anchor="middle" font-size="10" class="t">0</text>
<line x1="190.32" y1="226.90" x2="190.32" y2="224.90" stroke="#000" stroke-width="1.0" stroke-opacity="0.65"/>
<line x1="212.15" y1="226.90" x2="212.15" y2="222.70" stroke="#000" stroke-width="1.0" stroke-opacity="0.65"/>
<text x="212.55" y="239.70" text-anchor="middle" font-size="10" class="t">5000</text>
<line x1="233.97" y1="226.90" x2="233.97" y2="224.90" stroke="#000" stroke-width="1.0" stroke-opacity="0.65"/>
<line x1="255.80" y1="226.90" x2="255.80" y2="222.70" stroke="#000" stroke-width="1.0" stroke-opacity="0.65"/>
<text x="256.20" y="239.70" text-anchor="middle" font-size="10" class="t">10000</text>
<line x1="169.00" y1="144.20" x2="173.20" y2="144.20" stroke="#000" stroke-width="1.0" stroke-opacity="0.65"/>
<text x="164.20" y="148.20" text-anchor="end" font-size="10" class="t">70</text>
<line x1="169.00" y1="165.00" x2="171.00" y2="165.00" stroke="#000" stroke-width="1.0" stroke-opacity="0.65"/>
<line x1="169.00" y1="185.80" x2="173.20" y2="185.80" stroke="#000" stroke-width="1.0" stroke-opacity="0.65"/>
<text x="164.20" y="189.80" text-anchor="end" font-size="10" class="t">35</text>
<line x1="169.00" y1="206.60" x2="171.00" y2="206.60" stroke="#000" stroke-width="1.0" stroke-opacity="0.65"/>
<line x1="169.00" y1="227.40" x2="173.20" y2="227.40" stroke="#000" stroke-width="1.0" stroke-opacity="0.65"/>
<text x="164.20" y="231.40" text-anchor="end" font-size="10" class="t">0</text>
<text x="212.15" y="253.40" text-anchor="middle" font-size="13.5" class="s">T</text>
<text x="212.15" y="10.00" text-anchor="middle" font-size="13" class="h">Commodities</text>
<path d="M299.50,19.40 L299.50,102.40 L386.80,102.40" fill="none" stroke="#000" stroke-opacity="0.65" stroke-width="1" stroke-linecap="square"/>
<line x1="299.50" y1="101.90" x2="299.50" y2="97.70" stroke="#000" stroke-width="1.0" stroke-opacity="0.65"/>
<text x="299.90" y="114.70" text-anchor="middle" font-size="10" class="t">0</text>
<line x1="321.32" y1="101.90" x2="321.32" y2="99.90" stroke="#000" stroke-width="1.0" stroke-opacity="0.65"/>
<line x1="343.15" y1="101.90" x2="343.15" y2="97.70" stroke="#000" stroke-width="1.0" stroke-opacity="0.65"/>
<text x="343.55" y="114.70" text-anchor="middle" font-size="10" class="t">5000</text>
<line x1="364.98" y1="101.90" x2="364.98" y2="99.90" stroke="#000" stroke-width="1.0" stroke-opacity="0.65"/>
<line x1="386.80" y1="101.90" x2="386.80" y2="97.70" stroke="#000" stroke-width="1.0" stroke-opacity="0.65"/>
<text x="387.20" y="114.70" text-anchor="middle" font-size="10" class="t">10000</text>
<line x1="300.00" y1="25.60" x2="304.20" y2="25.60" stroke="#000" stroke-width="1.0" stroke-opacity="0.65"/>
<text x="295.20" y="29.60" text-anchor="end" font-size="10" class="t">0.97</text>
<line x1="300.00" y1="37.05" x2="302.00" y2="37.05" stroke="#000" stroke-width="1.0" stroke-opacity="0.65"/>
<line x1="300.00" y1="48.50" x2="304.20" y2="48.50" stroke="#000" stroke-width="1.0" stroke-opacity="0.65"/>
<text x="295.20" y="52.50" text-anchor="end" font-size="10" class="t">0.95</text>
<line x1="300.00" y1="59.95" x2="302.00" y2="59.95" stroke="#000" stroke-width="1.0" stroke-opacity="0.65"/>
<line x1="300.00" y1="71.40" x2="304.20" y2="71.40" stroke="#000" stroke-width="1.0" stroke-opacity="0.65"/>
<text x="295.20" y="75.40" text-anchor="end" font-size="10" class="t">0.94</text>
<line x1="300.00" y1="82.85" x2="302.00" y2="82.85" stroke="#000" stroke-width="1.0" stroke-opacity="0.65"/>
<line x1="300.00" y1="94.30" x2="304.20" y2="94.30" stroke="#000" stroke-width="1.0" stroke-opacity="0.65"/>
<text x="295.20" y="98.30" text-anchor="end" font-size="10" class="t">0.92</text>
<text x="343.15" y="128.40" text-anchor="middle" font-size="13.5" class="s">T</text>
<path d="M299.50,144.10 L299.50,227.40 L386.80,227.40" fill="none" stroke="#000" stroke-opacity="0.65" stroke-width="1" stroke-linecap="square"/>
<line x1="299.50" y1="226.90" x2="299.50" y2="222.70" stroke="#000" stroke-width="1.0" stroke-opacity="0.65"/>
<text x="299.90" y="239.70" text-anchor="middle" font-size="10" class="t">0</text>
<line x1="321.32" y1="226.90" x2="321.32" y2="224.90" stroke="#000" stroke-width="1.0" stroke-opacity="0.65"/>
<line x1="343.15" y1="226.90" x2="343.15" y2="222.70" stroke="#000" stroke-width="1.0" stroke-opacity="0.65"/>
<text x="343.55" y="239.70" text-anchor="middle" font-size="10" class="t">5000</text>
<line x1="364.98" y1="226.90" x2="364.98" y2="224.90" stroke="#000" stroke-width="1.0" stroke-opacity="0.65"/>
<line x1="386.80" y1="226.90" x2="386.80" y2="222.70" stroke="#000" stroke-width="1.0" stroke-opacity="0.65"/>
<text x="387.20" y="239.70" text-anchor="middle" font-size="10" class="t">10000</text>
<line x1="300.00" y1="144.30" x2="304.20" y2="144.30" stroke="#000" stroke-width="1.0" stroke-opacity="0.65"/>
<text x="295.20" y="148.30" text-anchor="end" font-size="10" class="t">14</text>
<line x1="300.00" y1="165.08" x2="302.00" y2="165.08" stroke="#000" stroke-width="1.0" stroke-opacity="0.65"/>
<line x1="300.00" y1="185.85" x2="304.20" y2="185.85" stroke="#000" stroke-width="1.0" stroke-opacity="0.65"/>
<text x="295.20" y="189.85" text-anchor="end" font-size="10" class="t">7</text>
<line x1="300.00" y1="206.62" x2="302.00" y2="206.62" stroke="#000" stroke-width="1.0" stroke-opacity="0.65"/>
<line x1="300.00" y1="227.40" x2="304.20" y2="227.40" stroke="#000" stroke-width="1.0" stroke-opacity="0.65"/>
<text x="295.20" y="231.40" text-anchor="end" font-size="10" class="t">0</text>
<text x="343.15" y="253.40" text-anchor="middle" font-size="13.5" class="s">T</text>
<text x="343.15" y="10.00" text-anchor="middle" font-size="13" class="h">Metabolic</text>
<path d="M430.50,19.40 L430.50,102.40 L517.80,102.40" fill="none" stroke="#000" stroke-opacity="0.65" stroke-width="1" stroke-linecap="square"/>
<line x1="430.50" y1="101.90" x2="430.50" y2="97.70" stroke="#000" stroke-width="1.0" stroke-opacity="0.65"/>
<text x="430.90" y="114.70" text-anchor="middle" font-size="10" class="t">0</text>
<line x1="452.32" y1="101.90" x2="452.32" y2="99.90" stroke="#000" stroke-width="1.0" stroke-opacity="0.65"/>
<line x1="474.15" y1="101.90" x2="474.15" y2="97.70" stroke="#000" stroke-width="1.0" stroke-opacity="0.65"/>
<text x="474.55" y="114.70" text-anchor="middle" font-size="10" class="t">5000</text>
<line x1="495.98" y1="101.90" x2="495.98" y2="99.90" stroke="#000" stroke-width="1.0" stroke-opacity="0.65"/>
<line x1="517.80" y1="101.90" x2="517.80" y2="97.70" stroke="#000" stroke-width="1.0" stroke-opacity="0.65"/>
<text x="518.20" y="114.70" text-anchor="middle" font-size="10" class="t">10000</text>
<line x1="431.00" y1="19.40" x2="435.20" y2="19.40" stroke="#000" stroke-width="1.0" stroke-opacity="0.65"/>
<text x="426.20" y="23.40" text-anchor="end" font-size="10" class="t">0.993</text>
<line x1="431.00" y1="33.23" x2="433.00" y2="33.23" stroke="#000" stroke-width="1.0" stroke-opacity="0.65"/>
<line x1="431.00" y1="47.07" x2="435.20" y2="47.07" stroke="#000" stroke-width="1.0" stroke-opacity="0.65"/>
<text x="426.20" y="51.07" text-anchor="end" font-size="10" class="t">0.990</text>
<line x1="431.00" y1="60.90" x2="433.00" y2="60.90" stroke="#000" stroke-width="1.0" stroke-opacity="0.65"/>
<line x1="431.00" y1="74.73" x2="435.20" y2="74.73" stroke="#000" stroke-width="1.0" stroke-opacity="0.65"/>
<text x="426.20" y="78.73" text-anchor="end" font-size="10" class="t">0.987</text>
<line x1="431.00" y1="88.57" x2="433.00" y2="88.57" stroke="#000" stroke-width="1.0" stroke-opacity="0.65"/>
<line x1="431.00" y1="102.40" x2="435.20" y2="102.40" stroke="#000" stroke-width="1.0" stroke-opacity="0.65"/>
<text x="426.20" y="106.40" text-anchor="end" font-size="10" class="t">0.984</text>
<text x="474.15" y="128.40" text-anchor="middle" font-size="13.5" class="s">T</text>
<path d="M430.50,144.10 L430.50,227.40 L517.80,227.40" fill="none" stroke="#000" stroke-opacity="0.65" stroke-width="1" stroke-linecap="square"/>
<line x1="430.50" y1="226.90" x2="430.50" y2="222.70" stroke="#000" stroke-width="1.0" stroke-opacity="0.65"/>
<text x="430.90" y="239.70" text-anchor="middle" font-size="10" class="t">0</text>
<line x1="452.32" y1="226.90" x2="452.32" y2="224.90" stroke="#000" stroke-width="1.0" stroke-opacity="0.65"/>
<line x1="474.15" y1="226.90" x2="474.15" y2="222.70" stroke="#000" stroke-width="1.0" stroke-opacity="0.65"/>
<text x="474.55" y="239.70" text-anchor="middle" font-size="10" class="t">5000</text>
<line x1="495.98" y1="226.90" x2="495.98" y2="224.90" stroke="#000" stroke-width="1.0" stroke-opacity="0.65"/>
<line x1="517.80" y1="226.90" x2="517.80" y2="222.70" stroke="#000" stroke-width="1.0" stroke-opacity="0.65"/>
<text x="518.20" y="239.70" text-anchor="middle" font-size="10" class="t">10000</text>
<line x1="431.00" y1="144.40" x2="435.20" y2="144.40" stroke="#000" stroke-width="1.0" stroke-opacity="0.65"/>
<text x="426.20" y="148.40" text-anchor="end" font-size="10" class="t">8</text>
<line x1="431.00" y1="185.90" x2="435.20" y2="185.90" stroke="#000" stroke-width="1.0" stroke-opacity="0.65"/>
<text x="426.20" y="189.90" text-anchor="end" font-size="10" class="t">4</text>
<line x1="431.00" y1="227.40" x2="435.20" y2="227.40" stroke="#000" stroke-width="1.0" stroke-opacity="0.65"/>
<text x="426.20" y="231.40" text-anchor="end" font-size="10" class="t">0</text>
<text x="474.15" y="253.40" text-anchor="middle" font-size="13.5" class="s">T</text>
<text x="474.15" y="10.00" text-anchor="middle" font-size="13" class="h">Internet</text>
<path d="M561.50,19.40 L561.50,102.40 L648.80,102.40" fill="none" stroke="#000" stroke-opacity="0.65" stroke-width="1" stroke-linecap="square"/>
<line x1="561.50" y1="101.90" x2="561.50" y2="97.70" stroke="#000" stroke-width="1.0" stroke-opacity="0.65"/>
<text x="561.90" y="114.70" text-anchor="middle" font-size="10" class="t">0</text>
<line x1="583.33" y1="101.90" x2="583.33" y2="99.90" stroke="#000" stroke-width="1.0" stroke-opacity="0.65"/>
<line x1="605.15" y1="101.90" x2="605.15" y2="97.70" stroke="#000" stroke-width="1.0" stroke-opacity="0.65"/>
<text x="605.55" y="114.70" text-anchor="middle" font-size="10" class="t">1000</text>
<line x1="626.98" y1="101.90" x2="626.98" y2="99.90" stroke="#000" stroke-width="1.0" stroke-opacity="0.65"/>
<line x1="648.80" y1="101.90" x2="648.80" y2="97.70" stroke="#000" stroke-width="1.0" stroke-opacity="0.65"/>
<text x="649.20" y="114.70" text-anchor="middle" font-size="10" class="t">2000</text>
<line x1="562.00" y1="23.40" x2="566.20" y2="23.40" stroke="#000" stroke-width="1.0" stroke-opacity="0.65"/>
<text x="557.20" y="27.40" text-anchor="end" font-size="10" class="t">1.000</text>
<line x1="562.00" y1="43.15" x2="564.00" y2="43.15" stroke="#000" stroke-width="1.0" stroke-opacity="0.65"/>
<line x1="562.00" y1="62.90" x2="566.20" y2="62.90" stroke="#000" stroke-width="1.0" stroke-opacity="0.65"/>
<text x="557.20" y="66.90" text-anchor="end" font-size="10" class="t">0.995</text>
<line x1="562.00" y1="82.65" x2="564.00" y2="82.65" stroke="#000" stroke-width="1.0" stroke-opacity="0.65"/>
<line x1="562.00" y1="102.40" x2="566.20" y2="102.40" stroke="#000" stroke-width="1.0" stroke-opacity="0.65"/>
<text x="557.20" y="106.40" text-anchor="end" font-size="10" class="t">0.990</text>
<text x="605.15" y="128.40" text-anchor="middle" font-size="13.5" class="s">T</text>
<path d="M561.50,144.10 L561.50,227.40 L648.80,227.40" fill="none" stroke="#000" stroke-opacity="0.65" stroke-width="1" stroke-linecap="square"/>
<line x1="561.50" y1="226.90" x2="561.50" y2="222.70" stroke="#000" stroke-width="1.0" stroke-opacity="0.65"/>
<text x="561.90" y="239.70" text-anchor="middle" font-size="10" class="t">0</text>
<line x1="583.33" y1="226.90" x2="583.33" y2="224.90" stroke="#000" stroke-width="1.0" stroke-opacity="0.65"/>
<line x1="605.15" y1="226.90" x2="605.15" y2="222.70" stroke="#000" stroke-width="1.0" stroke-opacity="0.65"/>
<text x="605.55" y="239.70" text-anchor="middle" font-size="10" class="t">1000</text>
<line x1="626.98" y1="226.90" x2="626.98" y2="224.90" stroke="#000" stroke-width="1.0" stroke-opacity="0.65"/>
<line x1="648.80" y1="226.90" x2="648.80" y2="222.70" stroke="#000" stroke-width="1.0" stroke-opacity="0.65"/>
<text x="649.20" y="239.70" text-anchor="middle" font-size="10" class="t">2000</text>
<line x1="562.00" y1="144.40" x2="566.20" y2="144.40" stroke="#000" stroke-width="1.0" stroke-opacity="0.65"/>
<text x="557.20" y="148.40" text-anchor="end" font-size="10" class="t">6</text>
<line x1="562.00" y1="165.15" x2="564.00" y2="165.15" stroke="#000" stroke-width="1.0" stroke-opacity="0.65"/>
<line x1="562.00" y1="185.90" x2="566.20" y2="185.90" stroke="#000" stroke-width="1.0" stroke-opacity="0.65"/>
<text x="557.20" y="189.90" text-anchor="end" font-size="10" class="t">3</text>
<line x1="562.00" y1="206.65" x2="564.00" y2="206.65" stroke="#000" stroke-width="1.0" stroke-opacity="0.65"/>
<line x1="562.00" y1="227.40" x2="566.20" y2="227.40" stroke="#000" stroke-width="1.0" stroke-opacity="0.65"/>
<text x="557.20" y="231.40" text-anchor="end" font-size="10" class="t">0</text>
<text x="605.15" y="253.40" text-anchor="middle" font-size="13.5" class="s">T</text>
<text x="605.15" y="10.00" text-anchor="middle" font-size="13" class="h">WTW</text>
<text transform="translate(11.4,67.6) rotate(-90) skewX(-8)" font-size="13.5" class="s">P</text>
<text transform="translate(14.1,58.2) rotate(-90)" font-size="10" class="s">s</text>
<text transform="translate(11.5,185.5) rotate(-90)" text-anchor="middle" font-size="14" class="s">s</text>
<line x1="0.6" y1="182" x2="0.6" y2="189" stroke="#000" stroke-width="1"/>
<line x1="603.30" y1="44.00" x2="622.00" y2="44.00" stroke="#FFE066" stroke-width="1.4" />
<path d="M600.30,46.00 L605.90,46.00 L603.10,40.80Z" fill="#FFD700"/>
<path d="M619.10,46.00 L624.70,46.00 L621.90,40.80Z" fill="#FFD700"/>
<line x1="603.10" y1="56.00" x2="621.90" y2="56.00" stroke="#5DB65D" stroke-width="2" />
<line x1="603.30" y1="67.90" x2="622.00" y2="67.90" stroke="#C98DEB" stroke-width="1.4" />
<path d="M600.50,66.00 L606.10,66.00 L603.30,71.20Z" fill="#9400D3"/>
<path d="M619.10,66.00 L624.70,66.00 L621.90,71.20Z" fill="#9400D3"/>
<text x="631.50" y="47.80" text-anchor="start" font-size="9.8" class="t">b&gt;0</text>
<text x="631.50" y="59.70" text-anchor="start" font-size="9.8" class="t">b=0</text>
<text x="631.50" y="71.60" text-anchor="start" font-size="9.8" class="t">b&lt;0</text>
</svg></body></html>
